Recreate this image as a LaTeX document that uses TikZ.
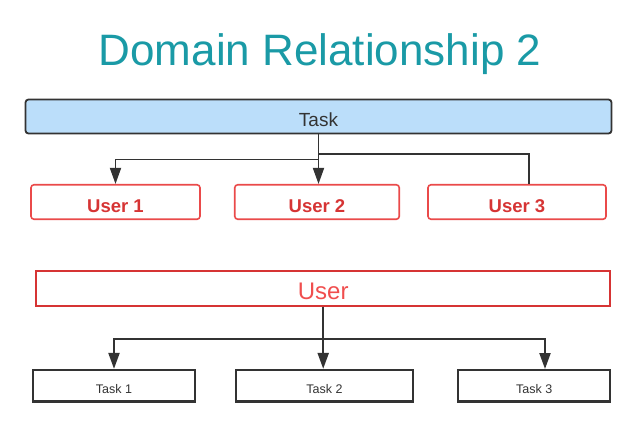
\documentclass[tikz,border=0pt]{standalone}
\usepackage{fontspec}
\setmainfont{Liberation Sans}
\usetikzlibrary{arrows.meta,calc}
\definecolor{teal1}{HTML}{1A9AA6}
\definecolor{taskfill}{HTML}{BBDEFA}
\definecolor{dk}{HTML}{333333}
\definecolor{redtxt}{HTML}{D63434}
\definecolor{redbd}{HTML}{EA4A4A}
\definecolor{redbig}{HTML}{F04E4E}
\begin{document}
\begin{tikzpicture}[x=1pt,y=-1pt,
  taskbox/.style={draw=dk,line width=1.8pt,fill=taskfill,rounded corners=3pt,minimum width=586pt,minimum height=34pt,inner sep=0pt,text=dk,font=\fontsize{19}{22}\selectfont,text height=19.6pt,text depth=0pt},
  userbox/.style={draw=redbd,line width=1.6pt,rounded corners=3pt,minimum height=34.5pt,inner sep=0pt,text=redtxt,font=\bfseries\fontsize{18.5}{22}\selectfont,text height=20.2pt,text depth=0pt},
  bigbox/.style={draw=redtxt,line width=1.8pt,minimum width=574pt,minimum height=35pt,inner sep=0pt,text=redbig,font=\fontsize{24}{28}\selectfont,text height=22.8pt,text depth=0pt},
  smallbox/.style={draw=dk,line width=2.2pt,minimum height=31.5pt,inner sep=0pt,text=dk,font=\fontsize{12.5}{15}\selectfont,text height=15pt,text depth=0pt},
  conn/.style={draw=dk,line width=1.8pt},
  conn2/.style={draw=dk,line width=2.2pt},
  tip/.style={-{Triangle[length=16pt,width=11pt]}}
]
\useasboundingbox (0,0) rectangle (637,426);
\node[text=teal1,font=\fontsize{44}{50}\selectfont,anchor=base] (title) at (320,65) {Domain Relationship 2};
\node[taskbox] (task) at (318.5,116.5) {Task};
\node[userbox,minimum width=169pt] (u1) at (115.5,202) {User 1};
\node[userbox,minimum width=164.5pt] (u2) at (317,202) {User 2};
\node[userbox,minimum width=178pt] (u3) at (517,202) {User 3};
\coordinate (u3in) at (529,184);
\node[bigbox] (ub) at (323.2,288.2) {User};
\node[smallbox,minimum width=161.5pt] (t1) at (114,385.7) {Task 1};
\node[smallbox,minimum width=177pt] (t2) at (324.5,385.7) {Task 2};
\node[smallbox,minimum width=152pt] (t3) at (534.2,385.7) {Task 3};
\coordinate (t3in) at (545,369);
% top connectors
\draw[conn,tip] (task.south) -- ++(0,25) -| (u1.north);
\draw[conn,tip] (task.south) -- (task.south |- u2.north);
\draw[conn] (task.south) ++(0,19.4) -| (u3in);
% bottom connectors
\draw[conn2,tip] (ub.south) -- ++(0,32) -| (t1.north);
\draw[conn2,tip] (ub.south) -- (ub.south |- t2.north);
\draw[conn2,tip] (ub.south) ++(0,32) -| (t3in);
\end{tikzpicture}
\end{document}
